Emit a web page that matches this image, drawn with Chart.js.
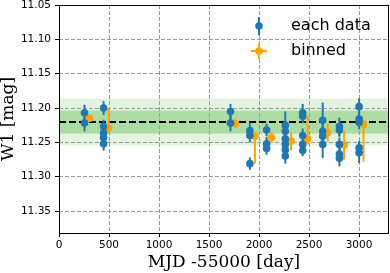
<!DOCTYPE html>
<html>
<head>
<meta charset="utf-8">
<script src="https://cdn.jsdelivr.net/npm/chart.js@4"></script>
<style>
  html, body { margin: 0; padding: 0; background: #fff; }
  #wrap { width: 390px; height: 273px; }
</style>
</head>
<body>
<div id="wrap"><canvas id="lc" width="390" height="273"></canvas></div>
<script>
// light curve values
const eachMjd = [255, 255,
  446, 446, 446, 446, 446,
  1715, 1715,
  1909, 1909, 1909,
  2076, 2076, 2076,
  2263, 2263, 2263, 2263, 2263, 2263,
  2437, 2437, 2437, 2437, 2437,
  2637, 2637, 2637, 2637,
  2804, 2804, 2804, 2804, 2804,
  3001, 3001, 3001, 3001, 3001];
const eachMag = [11.207, 11.222,
  11.200, 11.227, 11.236, 11.243, 11.252,
  11.205, 11.222,
  11.233, 11.240, 11.281,
  11.232, 11.252, 11.259,
  11.225, 11.234, 11.245, 11.253, 11.261, 11.270,
  11.207, 11.212, 11.240, 11.253, 11.262,
  11.218, 11.234, 11.241, 11.253,
  11.227, 11.232, 11.253, 11.267, 11.273,
  11.198, 11.216, 11.221, 11.258, 11.265];
const eachErr = [0.012, 0.012,
  0.010, 0.010, 0.010, 0.010, 0.010,
  0.011, 0.012,
  0.012, 0.010, 0.009,
  0.009, 0.010, 0.009,
  0.020, 0.010, 0.010, 0.010, 0.010, 0.011,
  0.013, 0.010, 0.010, 0.010, 0.008,
  0.026, 0.010, 0.010, 0.020,
  0.013, 0.010, 0.010, 0.010, 0.012,
  0.012, 0.010, 0.010, 0.010, 0.015];

const binMjd = [305, 496, 1765, 1959, 2126, 2320, 2487, 2687, 2851, 3045];
const binMag = [11.215, 11.229, 11.223, 11.241, 11.243, 11.248, 11.245, 11.236, 11.254, 11.224];
const binLo  = [11.211, 11.200, 11.215, 11.238, 11.235, 11.235, 11.212, 11.222, 11.233, 11.217];
const binHi  = [11.219, 11.236, 11.229, 11.281, 11.251, 11.262, 11.253, 11.249, 11.275, 11.278];

const meanMag = 11.2205;
const bandInner = 0.0167;
const bandOuter = 0.034;

const xTicks = [0, 500, 1000, 1500, 2000, 2500, 3000];
const yTicks = [11.05, 11.10, 11.15, 11.20, 11.25, 11.30, 11.35];

const BLUE = '#1f77b4';
const ORANGE = '#ffa500';
const tickFont = { family: 'DejaVu Sans', size: 10.5 };

// green bands under the grid
const bandPlugin = {
  id: 'bands',
  beforeDraw(chart) {
    const { ctx, chartArea: a, scales: { y } } = chart;
    ctx.save();
    const band = (lo, hi, col) => {
      const p1 = y.getPixelForValue(lo), p2 = y.getPixelForValue(hi);
      ctx.fillStyle = col;
      ctx.fillRect(a.left, Math.min(p1, p2), a.right - a.left, Math.abs(p2 - p1));
    };
    band(meanMag - bandOuter, meanMag + bandOuter, '#e3f3df');
    band(meanMag - bandInner, meanMag + bandInner, '#acdca4');
    ctx.restore();
  },
  beforeDatasetsDraw(chart) {
    const { ctx, chartArea: a, scales: { y } } = chart;
    const py = y.getPixelForValue(meanMag);
    ctx.save();
    ctx.strokeStyle = '#000';
    ctx.lineWidth = 2;
    ctx.setLineDash([7, 3]);
    ctx.beginPath();
    ctx.moveTo(a.left, py);
    ctx.lineTo(a.right, py);
    ctx.stroke();
    ctx.restore();
  }
};

// vertical error bars drawn just before each dataset's markers
const errPlugin = {
  id: 'errbars',
  beforeDatasetDraw(chart, args) {
    const ds = chart.data.datasets[args.index];
    if (!ds.lo) return;
    const meta = args.meta;
    const y = chart.scales.y;
    const ctx = chart.ctx;
    ctx.save();
    ctx.strokeStyle = ds.backgroundColor;
    ctx.lineWidth = 2;
    meta.data.forEach((pt, i) => {
      ctx.beginPath();
      ctx.moveTo(pt.x, y.getPixelForValue(ds.lo[i]));
      ctx.lineTo(pt.x, y.getPixelForValue(ds.hi[i]));
      ctx.stroke();
    });
    ctx.restore();
  }
};

// frame + legend on top
const framePlugin = {
  id: 'frame',
  afterDraw(chart) {
    const { ctx, chartArea: a } = chart;
    ctx.save();
    ctx.strokeStyle = '#000';
    ctx.lineWidth = 1;
    ctx.strokeRect(Math.round(a.left) + 0.5, Math.round(a.top) + 0.5,
      Math.round(a.right - a.left) - 1, Math.round(a.bottom - a.top));

    // legend
    const mx = 259;
    ctx.lineWidth = 2;
    ctx.strokeStyle = BLUE;
    ctx.beginPath(); ctx.moveTo(mx, 17); ctx.lineTo(mx, 35); ctx.stroke();
    ctx.fillStyle = BLUE;
    ctx.beginPath(); ctx.arc(mx, 26, 3.8, 0, Math.PI * 2); ctx.fill();

    ctx.strokeStyle = ORANGE;
    ctx.beginPath(); ctx.moveTo(mx, 43); ctx.lineTo(mx, 59); ctx.stroke();
    ctx.beginPath(); ctx.moveTo(mx - 8, 51); ctx.lineTo(mx + 8, 51); ctx.stroke();
    ctx.fillStyle = ORANGE;
    ctx.beginPath(); ctx.arc(mx, 51, 3.8, 0, Math.PI * 2); ctx.fill();

    ctx.fillStyle = '#000';
    ctx.font = '16px "DejaVu Sans"';
    ctx.textBaseline = 'middle';
    ctx.fillText('each data', 291, 26);
    ctx.fillText('binned', 291, 51);
    ctx.restore();
  }
};

const eachPts = eachMjd.map((x, i) => ({ x, y: eachMag[i] }));
const binPts = binMjd.map((x, i) => ({ x, y: binMag[i] }));

new Chart(document.getElementById('lc'), {
  type: 'scatter',
  data: {
    datasets: [
      {
        label: 'each data', data: eachPts,
        lo: eachMag.map((m, i) => m - eachErr[i]),
        hi: eachMag.map((m, i) => m + eachErr[i]),
        backgroundColor: BLUE, borderColor: BLUE,
        pointRadius: 3.8, pointBorderWidth: 0
      },
      {
        label: 'binned', data: binPts,
        lo: binLo, hi: binHi,
        backgroundColor: ORANGE, borderColor: ORANGE,
        pointRadius: 3.8, pointBorderWidth: 0
      }
    ]
  },
  options: {
    responsive: false,
    animation: false,
    layout: { autoPadding: false, padding: { top: 5, right: 1, left: 0, bottom: 0 } },
    plugins: { legend: { display: false }, tooltip: { enabled: false } },
    scales: {
      x: {
        type: 'linear', min: 0, max: 3300,
        afterFit: s => { s.height = 40; s.paddingLeft = 0; s.paddingRight = 0; },
        afterBuildTicks: s => { s.ticks = xTicks.map(v => ({ value: v })); },
        ticks: { font: tickFont, color: '#000', padding: 2, maxRotation: 0, autoSkip: false,
                 callback: v => String(v) },
        grid: { color: '#9a9a9a', lineWidth: 1, tickLength: 4, tickColor: '#000',
                tickBorderDash: [] },
        border: { display: false, dash: [4, 2] },
        title: { display: true, text: 'MJD -55000 [day]', color: '#000',
                 font: { family: 'DejaVu Serif', size: 17, lineHeight: 1 },
                 padding: { top: 0, bottom: 2 } }
      },
      y: {
        type: 'linear', reverse: true, min: 11.05, max: 11.382,
        afterFit: s => { s.width = 59; s.paddingTop = 0; s.paddingBottom = 0; },
        afterBuildTicks: s => { s.ticks = yTicks.map(v => ({ value: v })); },
        ticks: { font: tickFont, color: '#000', padding: 4, autoSkip: false,
                 callback: v => v.toFixed(2) },
        grid: { color: '#9a9a9a', lineWidth: 1, tickLength: 4, tickColor: '#000',
                tickBorderDash: [] },
        border: { display: false, dash: [4, 2] },
        title: { display: true, text: 'W1 [mag]', color: '#000',
                 font: { family: 'DejaVu Serif', size: 17, lineHeight: 1 },
                 padding: { top: 0, bottom: 0 } }
      }
    }
  },
  plugins: [bandPlugin, errPlugin, framePlugin]
});
</script>
</body>
</html>
